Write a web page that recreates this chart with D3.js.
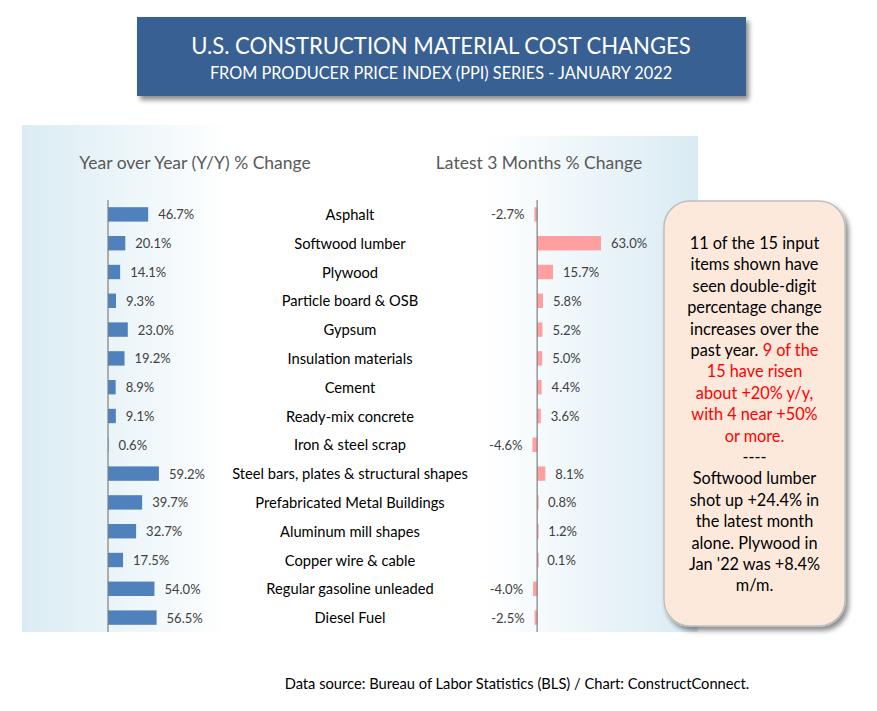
<!DOCTYPE html>
<html><head><meta charset="utf-8">
<script src="https://cdn.jsdelivr.net/npm/d3@7"></script>
<style>
body{margin:0;background:#fff;}
svg{display:block;font-family:Lato,"Open Sans",sans-serif;}
</style></head>
<body><svg id="c" width="877" height="711"></svg>
<script>
const categories = ["Asphalt","Softwood lumber","Plywood","Particle board & OSB","Gypsum","Insulation materials","Cement","Ready-mix concrete","Iron & steel scrap","Steel bars, plates & structural shapes","Prefabricated Metal Buildings","Aluminum mill shapes","Copper wire & cable","Regular gasoline unleaded","Diesel Fuel"];
const yoy = [46.7,20.1,14.1,9.3,23.0,19.2,8.9,9.1,0.6,59.2,39.7,32.7,17.5,54.0,56.5];
const threeMonth = [-2.7,63.0,15.7,5.8,5.2,5.0,4.4,3.6,-4.6,8.1,0.8,1.2,0.1,-4.0,-2.5];
const titleLines = ["U.S. CONSTRUCTION MATERIAL COST CHANGES","FROM PRODUCER PRICE INDEX (PPI) SERIES - JANUARY 2022"];
const panelTitles = ["Year over Year (Y/Y) % Change","Latest 3 Months % Change"];
const noteLines = [
 [["11 of the 15 input","#000"]],
 [["items shown have","#000"]],
 [["seen double-digit","#000"]],
 [["percentage change","#000"]],
 [["increases over the","#000"]],
 [["past year. ","#000"],["9 of the","#ff0000"]],
 [["15 have risen","#ff0000"]],
 [["about +20% y/y,","#ff0000"]],
 [["with 4 near +50%","#ff0000"]],
 [["or more.","#ff0000"]],
 [["----","#000"]],
 [["Softwood lumber","#000"]],
 [["shot up +24.4% in","#000"]],
 [["the latest month","#000"]],
 [["alone. Plywood in","#000"]],
 [["Jan '22 was +8.4%","#000"]],
 [["m/m.","#000"]]
];
const footer = "Data source: Bureau of Labor Statistics (BLS) / Chart: ConstructConnect.";

const svg = d3.select("#c");
const defs = svg.append("defs");
const lg1 = defs.append("linearGradient").attr("id","gl").attr("x1","0").attr("x2","1");
lg1.append("stop").attr("offset","0").attr("stop-color","#daecf3");
lg1.append("stop").attr("offset","0.6").attr("stop-color","#ffffff");
lg1.append("stop").attr("offset","1").attr("stop-color","#ffffff");
const lg2 = defs.append("linearGradient").attr("id","gr").attr("x1","0").attr("x2","1");
lg2.append("stop").attr("offset","0").attr("stop-color","#ffffff");
lg2.append("stop").attr("offset","0.35").attr("stop-color","#ffffff");
lg2.append("stop").attr("offset","1").attr("stop-color","#d9ebf3");
const sh = defs.append("filter").attr("id","sh").attr("x","-10%").attr("y","-10%").attr("width","130%").attr("height","130%");
sh.append("feGaussianBlur").attr("in","SourceAlpha").attr("stdDeviation","2.5");
sh.append("feOffset").attr("dx","3").attr("dy","4").attr("result","o");
sh.append("feComponentTransfer").append("feFuncA").attr("type","linear").attr("slope","0.45");
const m = sh.append("feMerge"); m.append("feMergeNode"); m.append("feMergeNode").attr("in","SourceGraphic");

// backgrounds
svg.append("rect").attr("x",22).attr("y",125).attr("width",350).attr("height",507).attr("fill","url(#gl)");
svg.append("rect").attr("x",372).attr("y",136).attr("width",326).attr("height",496).attr("fill","url(#gr)");

// title
svg.append("rect").attr("x",137).attr("y",17).attr("width",609).attr("height",79).attr("fill","#386192").attr("filter","url(#sh)");
svg.append("text").attr("x",441).attr("y",54).attr("text-anchor","middle").attr("fill","#fff").attr("font-size",22.1).text(titleLines[0]);
svg.append("text").attr("x",441).attr("y",79).attr("text-anchor","middle").attr("fill","#fff").attr("font-size",16.3).text(titleLines[1]);

// panel titles
svg.append("text").attr("x",195).attr("y",169).attr("text-anchor","middle").attr("fill","#595959").attr("font-size",17.5).text(panelTitles[0]);
svg.append("text").attr("x",539).attr("y",169).attr("text-anchor","middle").attr("fill","#595959").attr("font-size",17.5).text(panelTitles[1]);

const y = d3.scaleBand().domain(categories).range([200,632]).paddingInner(0.5).paddingOuter(0.25);
const xL = d3.scaleLinear().domain([0,100]).range([108,194]);
const xR = d3.scaleLinear().domain([-10,63]).range([527,601]);

// left bars
svg.append("g").selectAll("rect").data(categories).join("rect")
 .attr("x",xL(0)).attr("y",d=>y(d)).attr("height",y.bandwidth())
 .attr("width",(d,i)=>xL(yoy[i])-xL(0)).attr("fill","#4f81bd");
svg.append("g").selectAll("text").data(categories).join("text")
 .attr("x",(d,i)=>xL(yoy[i])+10).attr("y",d=>y(d)+y.bandwidth()/2+5)
 .attr("font-size",13).attr("fill","#404040").text((d,i)=>yoy[i].toFixed(1)+"%");
svg.append("line").attr("x1",xL(0)).attr("x2",xL(0)).attr("y1",200).attr("y2",632).attr("stroke","#7f7f7f").attr("stroke-width",1.2);

// category labels
svg.append("g").selectAll("text").data(categories).join("text")
 .attr("x",350).attr("y",d=>y(d)+y.bandwidth()/2+5.5).attr("text-anchor","middle")
 .attr("font-size",14.7).attr("fill","#000").text(d=>d);

// right bars
svg.append("g").selectAll("rect").data(categories).join("rect")
 .attr("x",(d,i)=>Math.min(xR(0),xR(threeMonth[i]))).attr("y",d=>y(d)).attr("height",y.bandwidth())
 .attr("width",(d,i)=>Math.max(1.5,Math.abs(xR(threeMonth[i])-xR(0)))).attr("fill","#ff9f9f");
svg.append("g").selectAll("text").data(categories).join("text")
 .attr("x",(d,i)=>threeMonth[i]<0?xR(threeMonth[i])-10:xR(threeMonth[i])+10)
 .attr("text-anchor",(d,i)=>threeMonth[i]<0?"end":"start")
 .attr("y",d=>y(d)+y.bandwidth()/2+5)
 .attr("font-size",13).attr("fill","#404040").text((d,i)=>threeMonth[i].toFixed(1)+"%");
svg.append("line").attr("x1",xR(0)).attr("x2",xR(0)).attr("y1",200).attr("y2",632).attr("stroke","#7f7f7f").attr("stroke-width",1.2);

// callout
svg.append("rect").attr("x",664).attr("y",201).attr("width",181).attr("height",425).attr("rx",26).attr("ry",26)
 .attr("fill","#fde9dc").attr("stroke","#bfbfbf").attr("stroke-width",1.5).attr("filter","url(#sh)");
const nt = svg.append("g");
noteLines.forEach((segs,i)=>{
  const t = nt.append("text").attr("x",754.5).attr("y",249+i*21.4).attr("text-anchor","middle").attr("font-size",16.3);
  segs.forEach(s=>t.append("tspan").attr("fill",s[1]).text(s[0]));
});

svg.append("text").attr("x",517).attr("y",689).attr("text-anchor","middle").attr("font-size",14.7).attr("fill","#000").text(footer);
</script></body></html>
